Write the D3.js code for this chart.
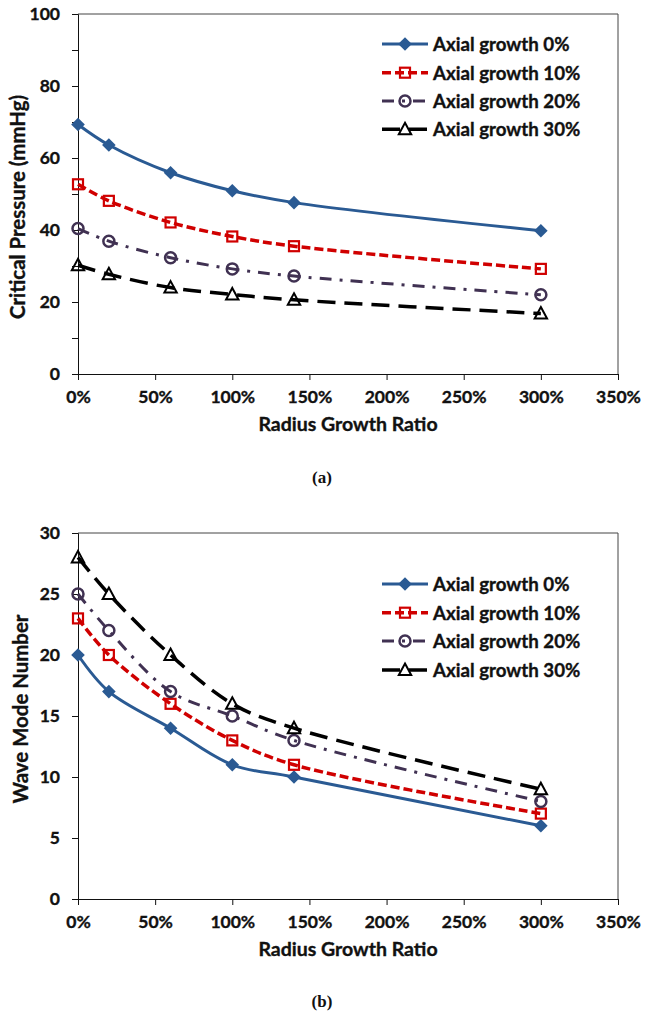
<!DOCTYPE html>
<html><head><meta charset="utf-8">
<script src="https://cdn.jsdelivr.net/npm/d3@7"></script>
<style>
body{margin:0;background:#fff}
svg{display:block}
text{font-family:Lato,'Open Sans',sans-serif;font-weight:bold;fill:#111;stroke:#111;stroke-width:0.35px}
</style>
</head><body>
<svg id="c" width="649" height="1013"></svg>
<script>
// ---- data ----
const radiusRatio = [0, 20, 60, 100, 140, 300];           // Radius growth ratio (%)
const seriesNames = ["Axial growth 0%", "Axial growth 10%", "Axial growth 20%", "Axial growth 30%"];
const pressure0  = [69.3, 63.6, 55.9, 50.9, 47.6, 39.8];
const pressure10 = [52.7, 48.1, 42.1, 38.2, 35.5, 29.2];
const pressure20 = [40.4, 36.9, 32.3, 29.2, 27.2, 22.0];
const pressure30 = [30.2, 27.7, 24.0, 22.1, 20.6, 16.8];
const wave0  = [20, 17, 14, 11, 10, 6];
const wave10 = [23, 20, 16, 13, 11, 7];
const wave20 = [25, 22, 17, 15, 13, 8];
const wave30 = [28, 25, 20, 16, 14, 9];
const xTickValues = [0, 50, 100, 150, 200, 250, 300, 350];
const pressureTicks = [0, 10, 20, 30, 40, 50, 60, 70, 80, 90, 100];
const pressureLabels = [0, 20, 40, 60, 80, 100];
const waveTicks = [0, 5, 10, 15, 20, 25, 30];

// ---- styles ----
const styles = [
  {color: "#2A5A93", dash: null, marker: "diamond", width: 3},
  {color: "#D00000", dash: "9,4", marker: "square", width: 3.5},
  {color: "#403152", dash: "12,8,3,8", marker: "circle", width: 3},
  {color: "#000000", dash: "18,9", marker: "triangle", width: 3.5}
];

const svg = d3.select("#c");

function drawMarker(g, type, color) {
  if (type === "diamond") {
    g.append("path").attr("d", "M0,-6.8L6.8,0L0,6.8L-6.8,0Z").attr("fill", color);
  } else if (type === "square") {
    g.append("rect").attr("x", -5).attr("y", -5).attr("width", 10).attr("height", 10)
      .attr("fill", "none").attr("stroke", color).attr("stroke-width", 2.2);
  } else if (type === "circle") {
    g.append("circle").attr("r", 5.5).attr("fill", "none").attr("stroke", color).attr("stroke-width", 2.5);
  } else {
    g.append("path").attr("d", "M0,-6.5L6.2,5L-6.2,5Z").attr("fill", "none")
      .attr("stroke", color).attr("stroke-width", 2).attr("stroke-linejoin", "miter");
  }
}

function chart(cfg) {
  const x = d3.scaleLinear().domain([0, 350]).range([78, 618]);
  const y = d3.scaleLinear().domain(cfg.yDomain).range([cfg.bottom, cfg.top]);
  const g = svg.append("g");

  // plot border (top & right)
  g.append("path").attr("d", `M${x(0)},${y(cfg.yDomain[1])}H${x(350)}V${y(0)}`)
    .attr("fill", "none").attr("stroke", "#444").attr("stroke-width", 1);

  // axes
  const ax = g.append("g").attr("transform", `translate(0,${y(0)})`)
    .call(d3.axisBottom(x).tickValues(xTickValues).tickSize(6).tickPadding(11).tickFormat(d => d + "%"));
  ax.selectAll("text").attr("font-size", 17.5).attr("font-family", "Lato").attr("font-weight", "bold");
  const ay = g.append("g").attr("transform", `translate(${x(0)},0)`)
    .call(d3.axisLeft(y).tickValues(cfg.yTicks).tickSize(6).tickPadding(12)
      .tickFormat(d => cfg.yLabels.includes(d) ? d : ""));
  ay.selectAll("text").attr("font-size", 17.5).attr("font-family", "Lato").attr("font-weight", "bold");
  [ax, ay].forEach(a => { a.select(".domain").attr("stroke", "#111"); a.selectAll(".tick line").attr("stroke", "#111"); a.selectAll("text").attr("fill", "#111"); });

  // axis titles
  g.append("text").attr("x", (x(0) + x(350)) / 2).attr("y", y(0) + 49)
    .attr("text-anchor", "middle").attr("dominant-baseline", "central").attr("font-size", 19.5)
    .text("Radius Growth Ratio");
  g.append("text").attr("transform", `translate(${cfg.yTitleX},${cfg.yTitleY}) rotate(-90)`)
    .attr("text-anchor", "middle").attr("dominant-baseline", "central").attr("font-size", 20.4)
    .text(cfg.yTitle);

  // caption
  g.append("text").attr("x", 322).attr("y", cfg.captionY).attr("text-anchor", "middle")
    .attr("dominant-baseline", "central").attr("font-size", 17).style("stroke-width", "0")
    .style("font-family", "'Liberation Serif','Times New Roman',serif").text(cfg.caption);

  // series
  const line = d3.line().x((d, i) => x(radiusRatio[i])).y(d => y(d)).curve(d3.curveCatmullRom.alpha(0.5));
  cfg.series.forEach((vals, si) => {
    const st = styles[si];
    g.append("path").attr("d", line(vals)).attr("fill", "none").attr("stroke", st.color)
      .attr("stroke-width", st.width).attr("stroke-dasharray", st.dash);
    vals.forEach((v, i) => {
      const m = g.append("g").attr("transform", `translate(${x(radiusRatio[i])},${y(v)})`);
      drawMarker(m, st.marker, st.color);
    });
  });

  // legend
  cfg.legendRows.forEach((ly, si) => {
    const st = styles[si];
    const lg = g.append("g");
    lg.append("line").attr("x1", 382).attr("x2", 428).attr("y1", ly).attr("y2", ly)
      .attr("stroke", st.color).attr("stroke-width", st.width).attr("stroke-dasharray", st.dash);
    drawMarker(lg.append("g").attr("transform", `translate(405,${ly})`), st.marker, st.color);
    lg.append("text").attr("x", 433).attr("y", ly).attr("dominant-baseline", "central")
      .attr("font-size", 18.7).text(seriesNames[si]);
  });
}

chart({
  top: 14, bottom: 374, yDomain: [0, 100], yTicks: pressureTicks, yLabels: pressureLabels,
  yTitle: "Critical Pressure (mmHg)", yTitleX: 17, yTitleY: 207,
  caption: "(a)", captionY: 477,
  series: [pressure0, pressure10, pressure20, pressure30],
  legendRows: [44, 72.7, 101, 129.3]
});
chart({
  top: 533, bottom: 899, yDomain: [0, 30], yTicks: waveTicks, yLabels: waveTicks,
  yTitle: "Wave Mode Number", yTitleX: 20, yTitleY: 709,
  caption: "(b)", captionY: 1001,
  series: [wave0, wave10, wave20, wave30],
  legendRows: [584, 612.7, 641, 670]
});
</script>
</body></html>
